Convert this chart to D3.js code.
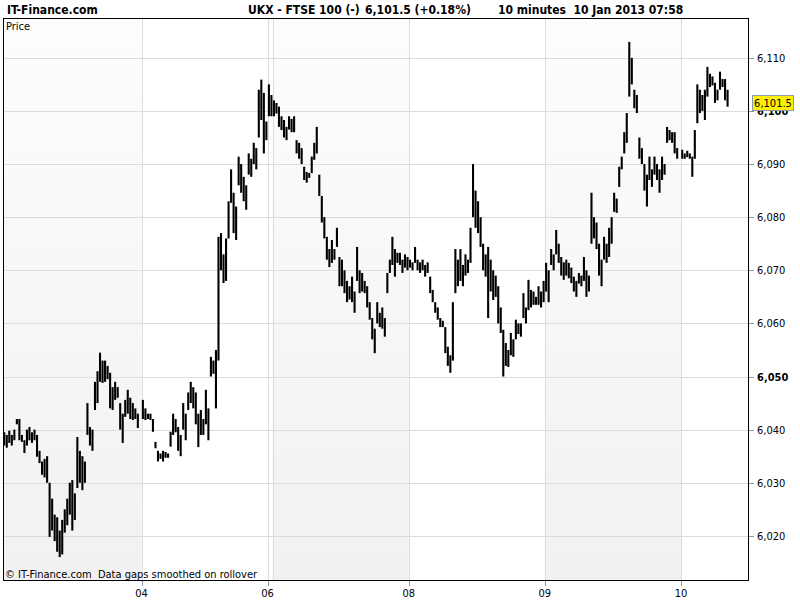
<!DOCTYPE html>
<html><head><meta charset="utf-8">
<script src="https://cdn.jsdelivr.net/npm/d3@7"></script>
<style>
html,body{margin:0;padding:0;background:#fff;}
svg text{font-family:"DejaVu Sans Condensed","Liberation Sans",Arial,sans-serif;}
</style></head>
<body><svg id="c" width="800" height="600"></svg>
<script>
// ---- data: 10-minute bars, [high, low] per bar, grouped by trading day ----
const dayNames = ["03","04","06","07","08","09","10"];
const dayShown = [false,true,true,false,true,true,true];
const daySlots = [55,50,2,54,54,54,27];
const dayShaded = [true,false,false,true,false,true,false];

const jan03 = [[6039.5,6037],[6039,6036.6],[6039.8,6037.5],[6039,6037],[6040,6038],[6042,6041],[6042,6038],
 [6039,6037.7],[6038,6035.6],[6040,6037],[6040.5,6038],[6039.5,6037.5],[6040,6038],[6039,6034.9],[6036,6033.7],
 [6034,6031.5],[6034.5,6031],[6035,6030],[6030,6019.8],[6027,6021],[6024,6019],[6023.5,6017],[6021,6016],
 [6023,6016.5],[6025,6020.6],[6027,6022],[6030,6024],[6030.5,6021],[6028,6023],[6038.6,6029],[6036,6030],
 [6035,6028.6],[6034,6030],[6045,6039],[6040.5,6037],[6040,6036],[6049,6043.7],[6051,6045],[6054.5,6049],
 [6053,6048.8],[6053,6049],[6052,6049.5],[6050.7,6044],[6048,6043.7],[6049,6045.6],[6048,6046],[6045,6040],
 [6043,6037.5],[6045.6,6042.4],[6047.5,6043],[6046,6042],[6045,6041.8],[6044,6042],[6043,6040.3]];
const jan04 = [[6045.6,6042],[6044,6041.8],[6043,6042],[6043,6041.8],[6042,6039.6],[6037.7,6036.5],[6036,6034],
 [6035.5,6034.5],[6036,6034],[6035.8,6034.7],[6035.5,6034.7],[6039.6,6036.8],[6043,6039],[6042,6039.5],
 [6040.5,6036],[6039,6035],[6045,6040],[6043,6038],[6047,6043.7],[6049,6045],[6048,6044],[6047,6041],
 [6043,6036.7],[6043.7,6039],[6042,6039],[6047.5,6041],[6044,6038],[6053.7,6050],[6053,6050.5],[6055,6044],
 [6076.3,6053],[6077,6070],[6073,6067.6],[6076,6068],[6083,6076],[6089,6082.7],[6084.6,6077],[6082,6075.7],
 [6091.4,6086],[6090,6084.6],[6087.6,6083],[6086,6081.4],[6092,6088],[6091,6087.6],[6094,6090],[6093,6089],
 [6104,6095],[6105.9,6098.3],[6103.4,6092],[6098,6094.5]];
const jan06 = [[6105,6099],[6103,6099]];
const jan07 = [[6102,6099],[6101.5,6099.5],[6100.8,6097],[6099,6096.4],[6098.3,6095],[6097,6094.5],
 [6099,6096.5],[6098.5,6096],[6099,6096],[6094.5,6092],[6094,6091],[6093,6090],[6089.5,6087],[6088.5,6086.5],
 [6088.3,6087.4],[6091.4,6088.3],[6094,6090.8],[6097,6092],[6088,6084],[6084,6079],[6080,6076],[6076.3,6072],
 [6074,6070.6],[6075.7,6071.4],[6074,6072],[6078,6074.4],[6072.5,6067],[6072,6067],[6070,6065.7],[6068,6064],
 [6067,6064.5],[6068.8,6064],[6066,6062],[6074.4,6068],[6070,6065.7],[6069.5,6066],[6068,6065.7],[6067,6063],
 [6064,6060.7],[6061,6057],[6059,6054.4],[6064,6060],[6062,6059.3],[6063,6059],[6061,6057.5],[6069.5,6065.7],
 [6072,6069.5],[6076.3,6071],[6074,6068.8],[6073.3,6071.4],[6073.3,6071],[6072,6069.5],[6073,6070.5],[6072.5,6070]];
const jan08 = [[6072,6070.5],[6071.5,6070],[6074.4,6071.4],[6072,6070],[6071.5,6069.5],[6072,6070],[6071,6068.8],
 [6071.5,6069.5],[6068.8,6065.7],[6066.3,6064],[6064,6062],[6063,6060.7],[6061,6059.3],[6060.5,6059.3],
 [6059.3,6054.4],[6055.6,6052],[6054,6050.7],[6064,6053],[6074,6065.7],[6072,6067],[6074,6068],[6071,6067],
 [6073,6069],[6072,6069.5],[6078,6071.4],[6090,6080],[6085,6078],[6083,6077],[6080,6074.4],[6075,6070],
 [6073,6068.8],[6074.4,6061],[6072,6066],[6070,6064.4],[6069,6065],[6067,6060],[6063,6058.2],[6058.8,6050],
 [6056.3,6052],[6055,6051.8],[6058.2,6054],[6057,6053.7],[6060.7,6057],[6060,6058],[6060,6057.5],[6065.7,6061],
 [6063,6060],[6068.2,6062.5],[6066.3,6063],[6066,6063.5],[6065,6063.5],[6067,6063.5],[6066,6063],[6068,6064]];
const jan09 = [[6071.4,6066],[6070,6064],[6074,6071],[6073,6070],[6077.6,6073],[6075,6071.4],[6072.5,6069],
 [6071.5,6068.2],[6072,6069],[6071.4,6068.5],[6070.5,6067.6],[6068.8,6066],[6068,6065],[6069.5,6067.5],
 [6069,6067],[6072.5,6068],[6070,6065],[6069,6066],[6084.6,6075],[6080,6076],[6079,6074],[6075,6069],
 [6072,6067],[6076.3,6072],[6075,6071.4],[6078,6072.5],[6080,6075],[6084.6,6081],[6083.5,6080.8],
 [6089.5,6085.7],[6091.4,6089],[6096,6092],[6099.6,6094],[6113,6102.7],[6110,6105],[6104,6100.5],
 [6103,6099.6],[6095,6091],[6093,6090],[6090,6085],[6088,6082],[6091.4,6087],[6089,6085.7],[6091.4,6088],
 [6090,6087],[6089,6084.6],[6091.4,6087],[6090,6088],[6097,6094],[6096.4,6094.5],[6096,6094],[6096,6092],[6093,6091]];
const jan10 = [[6092.7,6091],[6092,6091],[6092.5,6091.3],[6092,6091],[6091.4,6087.6],[6096.4,6091],
 [6105,6097.7],[6104,6099.6],[6103,6100],[6104,6098.3],[6108.3,6102.7],[6107,6104.5],[6106.5,6104.8],
 [6105.3,6101.5],[6104,6102],[6107.4,6104],[6106,6104.5],[6106,6102],[6104,6100.8]];
const days = [jan03, jan04, jan06, jan07, jan08, jan09, jan10];

const yTicks = [6020,6030,6040,6050,6060,6070,6080,6090,6100,6110];
const lastPrice = 6101.5;
const titleParts = ["UKX - FTSE 100 (-)", "6,101.5 (+0.18%)", "10 minutes  10 Jan 2013 07:58"];

// ---- layout ----
const L = 3, R = 749, T = 18, B = 581;
const svg = d3.select("#c");

const totalSlots = d3.sum(daySlots);
const dayStart = daySlots.map((d,i)=>d3.sum(daySlots.slice(0,i)));
const x = d3.scaleLinear().domain([0,totalSlots]).range([L,R]);
const y = d3.scaleLinear().domain([6011.5,6117.5]).range([B,T]);

const defs = svg.append("defs");
const grad = defs.append("linearGradient").attr("id","shade").attr("x1",0).attr("y1",0).attr("x2",0).attr("y2",1);
grad.append("stop").attr("offset","0%").attr("stop-color","#fdfdfd");
grad.append("stop").attr("offset","100%").attr("stop-color","#f1f1f1");

// day shading
svg.append("g").selectAll("rect").data(dayNames.map((n,i)=>({i})).filter(d=>dayShaded[d.i]))
  .join("rect")
  .attr("x",d=>x(dayStart[d.i])).attr("y",T)
  .attr("width",d=>Math.min(x(dayStart[d.i]+daySlots[d.i]),R)-x(dayStart[d.i]))
  .attr("height",B-T).attr("fill","url(#shade)");

// horizontal grid
svg.append("g").selectAll("line").data(yTicks).join("line")
  .attr("x1",L).attr("x2",R)
  .attr("y1",d=>Math.round(y(d))+0.5).attr("y2",d=>Math.round(y(d))+0.5)
  .attr("stroke","#dcdcdc");
// vertical grid at day starts
const vIdx = dayNames.map((n,i)=>i).filter(i=>i>0);
svg.append("g").selectAll("line").data(vIdx).join("line")
  .attr("x1",i=>Math.round(x(dayStart[i]))+0.5).attr("x2",i=>Math.round(x(dayStart[i]))+0.5)
  .attr("y1",T).attr("y2",B).attr("stroke","#dcdcdc");

// bars
const bars = [];
days.forEach((arr,di)=>arr.forEach((b,j)=>bars.push({slot:dayStart[di]+j+0.5, h:b[0], l:b[1]})));
svg.append("g").selectAll("line").data(bars).join("line")
  .attr("x1",d=>x(d.slot)).attr("x2",d=>x(d.slot))
  .attr("y1",d=>y(d.h)).attr("y2",d=>Math.max(y(d.l), y(d.h)+1.5))
  .attr("stroke","#000").attr("stroke-width",2.1);

// frame
svg.append("rect").attr("x",L+0.5).attr("y",T+0.5).attr("width",R-L-1).attr("height",B-T-1)
  .attr("fill","none").attr("stroke","#000");

// right axis
const yAxis = svg.append("g").attr("transform",`translate(${R},0)`);
yAxis.selectAll("line").data(yTicks).join("line")
  .attr("x1",0).attr("x2",5).attr("y1",d=>Math.round(y(d))+0.5).attr("y2",d=>Math.round(y(d))+0.5)
  .attr("stroke","#8a9aaa");
yAxis.selectAll("text").data(yTicks).join("text")
  .attr("x",8).attr("y",d=>y(d)+4).attr("font-size","11px")
  .attr("font-weight",d=>d%50===0?"bold":"normal")
  .text(d=>d3.format(",")(d));

// last price label
const lp = svg.append("g").attr("transform",`translate(752,${Math.round(y(lastPrice))})`);
lp.append("rect").attr("x",0.5).attr("y",-7.5).attr("width",41).attr("height",15)
  .attr("fill","#ffee00").attr("stroke","#8a9aaa");
lp.append("text").attr("x",21).attr("y",4).attr("text-anchor","middle").attr("font-size","11px").text(d3.format(",.1f")(lastPrice));

// bottom axis
const xt = vIdx.filter(i=>dayShown[i]);
const xAxis = svg.append("g");
xAxis.selectAll("line").data(xt).join("line")
  .attr("x1",i=>Math.round(x(dayStart[i]))+0.5).attr("x2",i=>Math.round(x(dayStart[i]))+0.5)
  .attr("y1",B).attr("y2",B+5).attr("stroke","#8a9aaa");
xAxis.selectAll("text").data(xt).join("text")
  .attr("x",i=>x(dayStart[i])).attr("y",597).attr("text-anchor","middle").attr("font-size","11px")
  .text(i=>dayNames[i]);

// texts
svg.append("text").attr("x",7).attr("y",14).attr("font-size","12px").attr("font-weight","bold").text("IT-Finance.com");
const tx = [248,365,498];
titleParts.forEach((t,i)=>svg.append("text").attr("x",tx[i]).attr("y",14).attr("font-size","12px")
  .attr("font-weight","bold").style("white-space","pre").text(t));
svg.append("text").attr("x",6).attr("y",30).attr("font-size","11px").text("Price");
svg.append("text").attr("x",5).attr("y",578).attr("font-size","11px").style("white-space","pre")
  .text("© IT-Finance.com  Data gaps smoothed on rollover");
</script></body></html>
